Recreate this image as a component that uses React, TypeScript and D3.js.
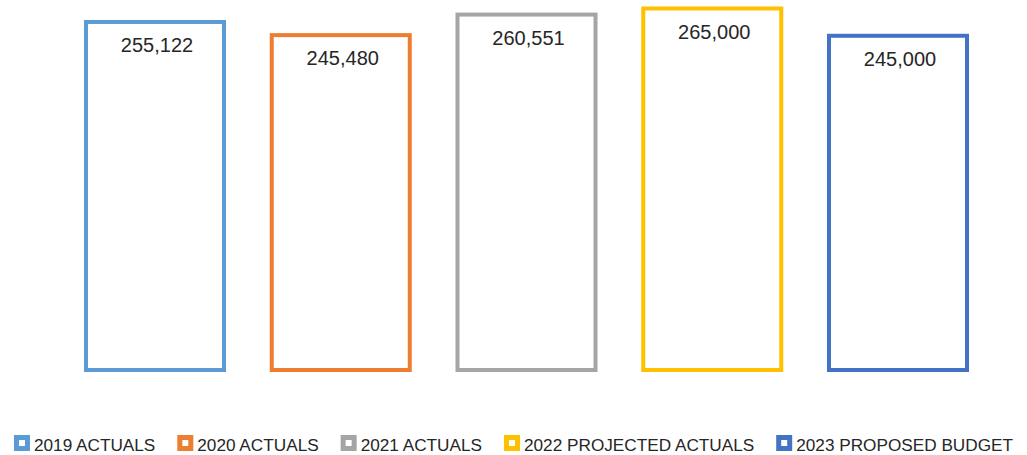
import React, { useEffect, useRef } from "react";
import * as d3 from "d3";

const categories = ["2019 ACTUALS", "2020 ACTUALS", "2021 ACTUALS", "2022 PROJECTED ACTUALS", "2023 PROPOSED BUDGET"];
const values = [255122, 245480, 260551, 265000, 245000];
const colors = ["#5B9BD5", "#ED7D31", "#A5A5A5", "#FFC000", "#4472C4"];

const W = 1027;
const H = 455;
const FONT = "'Liberation Sans', Arial, sans-serif";

export default function App() {
  const ref = useRef<SVGSVGElement | null>(null);

  useEffect(() => {
    const svg = d3.select(ref.current);
    svg.selectAll("*").remove();

    const x = d3.scaleBand<string>().domain(categories).range([86, 967]).paddingInner(0.257).paddingOuter(0);
    const y = d3.scaleLinear().domain([0, 265000]).range([370, 8.5]);
    const data = categories.map((c, i) => ({ c, v: values[i], color: colors[i] }));

    const g = svg.append("g");
    g.selectAll("rect.bar")
      .data(data)
      .join("rect")
      .attr("class", "bar")
      .attr("x", (d) => x(d.c)!)
      .attr("y", (d) => y(d.v))
      .attr("width", x.bandwidth())
      .attr("height", (d) => y(0) - y(d.v))
      .attr("fill", "none")
      .attr("stroke", (d) => d.color)
      .attr("stroke-width", 4);

    g.selectAll("text.lbl")
      .data(data)
      .join("text")
      .attr("class", "lbl")
      .attr("x", (d) => x(d.c)! + x.bandwidth() / 2 + 2)
      .attr("y", (d) => y(d.v) + 30)
      .attr("text-anchor", "middle")
      .attr("font-family", FONT)
      .attr("font-size", 20)
      .attr("fill", "#262626")
      .text((d) => d3.format(",")(d.v));

    // legend
    const lg = svg.append("g");
    const items = lg.selectAll("g.item").data(data).join("g").attr("class", "item");
    items
      .append("rect")
      .attr("x", 2.5)
      .attr("y", -13.5)
      .attr("width", 11)
      .attr("height", 11)
      .attr("fill", "white")
      .attr("stroke", (d) => d.color)
      .attr("stroke-width", 5);
    const texts = items
      .append("text")
      .attr("x", 20)
      .attr("y", 0)
      .attr("font-family", FONT)
      .attr("font-size", 17.2)
      .attr("fill", "#262626")
      .text((d) => d.c);
    const widths: number[] = [];
    texts.each(function () {
      widths.push((this as SVGTextElement).getComputedTextLength());
    });
    const gap = 22;
    const itemW = widths.map((w) => 20 + w);
    const total = d3.sum(itemW) + gap * (itemW.length - 1);
    let cx = (W - total) / 2;
    items.each(function (_d, i) {
      d3.select(this).attr("transform", `translate(${cx},451)`);
      cx += itemW[i] + gap;
    });
  }, []);

  return (
    <svg
      ref={ref}
      width={W}
      height={H}
      style={{ position: "absolute", left: 0, top: 0, background: "white" }}
    />
  );
}
